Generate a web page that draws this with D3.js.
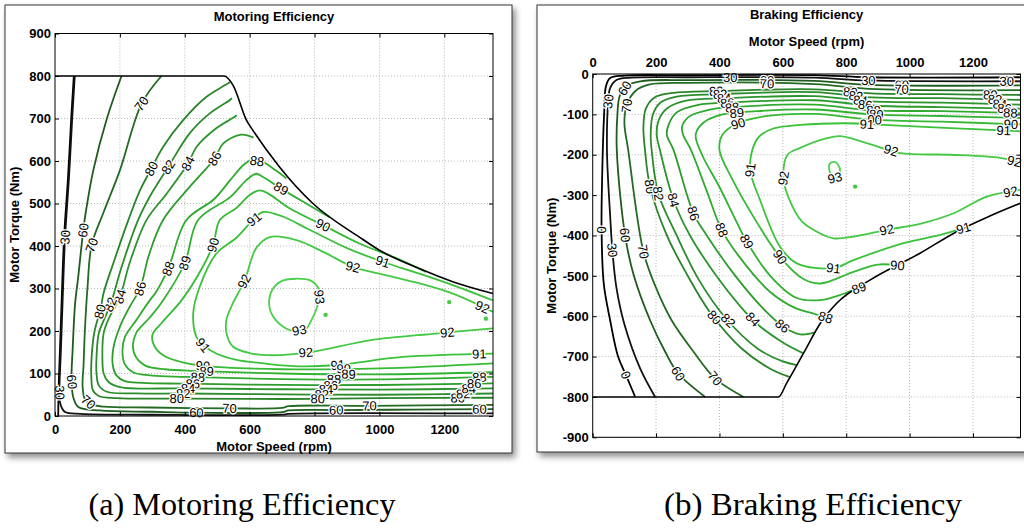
<!DOCTYPE html>
<html>
<head>
<meta charset="utf-8">
<script src="https://cdnjs.cloudflare.com/ajax/libs/d3/7.8.5/d3.min.js"></script>
<style>
  body { margin: 0; background: #fff; }
  svg text { font-family: "Liberation Sans", Arial, sans-serif; }
</style>
</head>
<body>
<svg id="chart" width="1024" height="530"></svg>
<script>
// ---------- axis ticks ----------
const speedTicks = [0, 200, 400, 600, 800, 1000, 1200];
const motTorqueTicks = [0, 100, 200, 300, 400, 500, 600, 700, 800, 900];
const brkTorqueTicks = [0, -100, -200, -300, -400, -500, -600, -700, -800, -900];

// ---------- motoring map: [speed rpm, torque Nm] ----------
const motEnvelope = [[0,800],[521,800],[549,778],[590,696],[610,672],[692,586],[795,500],[938,421],[1000,390],[1123,347],[1226,316],[1350,288]];
const mot0 = [[58,800],[50,700],[40,560],[28,420],[20,260],[15,150],[11,60],[10,0]];
const mot30 = [[61,800],[53,700],[43,560],[31,420],[23,260],[18,150],[14,70],[16,30],[30,10],[80,5],[300,3],[700,3],[720,5],[1350,6]];
const mot60 = [[205,800],[160,700],[118,578],[95,480],[87,437],[72,330],[62,265],[54,150],[51,92],[56,45],[72,21],[138,13],[300,10],[436,8],[700,9],[720,13],[867,14],[1100,15],[1350,16]];
const mot70 = [[328,800],[267,735],[200,578],[150,480],[113,402],[100,300],[92,200],[88,120],[85,70],[92,40],[110,28],[150,22],[292,20],[538,18],[700,19],[720,23],[969,24],[1350,26]];
const mot80 = [[540,786],[523,778],[467,751],[395,696],[333,633],[297,582],[262,531],[226,461],[180,360],[150,290],[140,250],[122,200],[113,140],[112,90],[117,60],[135,47],[190,42],[400,41],[700,40],[1000,42],[1350,43]];
const mot82 = [[545,748],[538,743],[477,712],[415,665],[349,586],[292,516],[256,461],[205,350],[172,265],[150,225],[135,195],[128,140],[128,100],[135,72],[160,57],[250,53],[400,53],[700,51],[1000,50],[1350,53]];
const mot84 = [[560,708],[554,704],[497,677],[436,633],[410,594],[344,523],[282,461],[230,360],[200,280],[165,228],[150,195],[146,140],[150,100],[165,80],[200,68],[400,65],[700,63],[1000,62],[1350,65]];
const mot86 = [[612,655],[574,662],[518,641],[492,606],[415,539],[333,461],[290,380],[262,300],[231,258],[200,210],[180,160],[178,120],[190,95],[215,82],[270,78],[400,76],[700,73],[1000,73],[1350,77]];
const mot88 = [[713,559],[680,578],[640,598],[605,602],[580,590],[540,555],[490,510],[405,461],[349,347],[310,290],[292,272],[250,225],[215,185],[208,150],[215,122],[240,103],[300,95],[400,92],[700,87],[1000,86],[1350,92]];
const mot89 = [[846,468],[774,500],[697,535],[640,563],[620,570],[590,555],[540,515],[441,461],[400,360],[333,272],[290,230],[250,195],[240,165],[250,138],[280,118],[340,110],[430,106],[700,100],[1000,98],[1350,103]];
const mot90 = [[1143,339],[1050,372],[938,406],[826,449],[720,490],[660,522],[631,531],[600,520],[560,490],[508,461],[487,402],[440,330],[390,272],[330,220],[300,190],[310,160],[340,140],[390,127],[456,118],[700,110],[1000,112],[1350,124]];
const mot91 = [[1350,272],[1226,308],[1123,335],[1010,363],[900,395],[780,440],[700,470],[641,480],[610,461],[560,420],[497,382],[446,304],[426,241],[436,186],[456,167],[497,147],[560,132],[651,123],[750,117],[870,120],[1072,139],[1350,147]];
const mot92 = [[1350,245],[1226,288],[1123,312],[1000,335],[918,351],[830,385],[744,414],[662,421],[620,395],[585,320],[545,260],[528,225],[530,190],[549,163],[600,148],[662,143],[794,151],[969,178],[1174,194],[1350,206]];
const mot93 = [[744,323],[790,318],[812,300],[815,280],[805,250],[790,225],[774,205],[740,200],[700,212],[668,240],[660,272],[672,300],[700,318],[744,323]];
const motDots = [[1215,268],[1328,229],[834,238]];
const motLabels = [
  ["30",28,421],["30",10,55],["60",87,437],["60",48,80],["70",113,402],["70",267,735],["70",103,33],
  ["80",297,582],["82",349,586],["84",410,594],["86",492,606],
  ["88",620,586],["89",697,535],["90",826,449],["91",1010,363],["92",918,351],["92",1318,257],
  ["93",846,280],["93",754,198],["91",620,457],["92",585,316],
  ["88",349,347],["89",400,360],["90",487,402],["86",262,300],["84",205,280],["82",172,262],["80",142,245],
  ["91",456,167],["92",774,140],["92",1210,190],["91",1308,145],["88",1308,92],
  ["90",456,116],["89",467,100],["88",440,90],["86",425,76],["84",410,65],["82",395,53],["80",375,41],["60",436,9],["70",538,18],
  ["91",872,120],["90",890,108],["89",905,97],["88",860,86],["86",850,73],["84",835,62],["82",822,51],["80",810,42],["60",867,14],["70",969,24],
  ["80",1241,43],["82",1258,51],["84",1275,63],["86",1292,76],["60",1308,16]
];

// ---------- braking map: [speed rpm, torque Nm] ----------
const brkEnvelope = [[0,-800],[586,-800],[612,-766],[665,-692],[718,-618],[770,-568],[876,-510],[1033,-444],[1150,-390],[1250,-353],[1350,-320]];
const brk0 = [[1350,-8],[870,-8],[700,-3],[300,-3],[100,-4],[55,-10],[42,-30],[36,-100],[30,-250],[28,-386],[35,-520],[55,-610],[80,-700],[105,-746],[134,-800]];
const brk30 = [[1350,-18],[870,-16],[700,-9],[300,-8],[120,-9],[75,-15],[55,-35],[49,-68],[45,-188],[55,-350],[62,-436],[75,-530],[100,-620],[150,-730],[197,-800]];
const brk60 = [[1350,-28],[870,-27],[700,-17],[300,-15],[150,-18],[105,-30],[85,-55],[78,-100],[76,-188],[102,-399],[130,-500],[181,-610],[230,-690],[270,-742],[355,-800]];
const brk70 = [[1350,-40],[870,-37],[700,-25],[300,-22],[180,-26],[135,-42],[108,-75],[100,-120],[112,-188],[160,-440],[200,-530],[249,-610],[320,-690],[386,-754],[476,-800]];
const brk80 = [[1350,-52],[1100,-50],[880,-48],[700,-38],[400,-42],[250,-47],[195,-58],[168,-85],[160,-130],[165,-188],[181,-279],[234,-400],[300,-500],[370,-590],[470,-680],[560,-730],[623,-751]];
const brk82 = [[1350,-64],[1100,-60],[880,-58],[700,-45],[400,-50],[265,-56],[215,-70],[190,-100],[183,-150],[186,-188],[207,-296],[265,-400],[335,-510],[420,-605],[520,-680],[600,-712],[644,-721]];
const brk84 = [[1350,-76],[1100,-71],[880,-68],[700,-55],[420,-60],[295,-66],[235,-85],[208,-115],[202,-150],[212,-188],[255,-312],[307,-400],[390,-500],[465,-575],[520,-620],[600,-665],[665,-692]];
const brk86 = [[1350,-86],[1100,-82],[880,-78],[700,-65],[450,-70],[330,-77],[265,-95],[240,-125],[234,-150],[255,-188],[318,-345],[360,-400],[450,-500],[549,-590],[602,-626],[655,-645],[700,-640]];
const brk88 = [[1350,-97],[1100,-92],[880,-90],[700,-76],[480,-80],[370,-88],[305,-105],[282,-130],[285,-150],[310,-188],[360,-290],[407,-386],[460,-450],[560,-540],[640,-580],[690,-592],[735,-603]];
const brk89 = [[1350,-109],[1100,-104],[880,-100],[700,-88],[520,-92],[410,-100],[350,-120],[325,-150],[345,-200],[400,-280],[450,-360],[486,-415],[560,-500],[644,-555],[720,-560],[790,-545],[840,-530]];
const brk90 = [[1350,-125],[1100,-118],[880,-113],[700,-99],[540,-105],[450,-125],[410,-150],[400,-188],[440,-260],[520,-370],[591,-453],[665,-508],[718,-519],[823,-490],[900,-472],[962,-474]];
const brk91 = [[1350,-142],[1129,-134],[918,-126],[800,-122],[655,-126],[570,-135],[525,-155],[507,-180],[497,-238],[528,-312],[591,-428],[644,-469],[760,-481],[823,-461],[981,-419],[1100,-398],[1170,-382]];
const brk92 = [[1350,-220],[1286,-208],[1129,-200],[971,-196],[865,-171],[781,-154],[739,-159],[655,-183],[615,-200],[602,-258],[620,-310],[660,-365],[718,-395],[760,-407],[823,-403],[928,-386],[1039,-370],[1139,-345],[1244,-304],[1350,-287]];
const brk93 = [[748,-222],[765,-218],[780,-235],[775,-255],[760,-258],[748,-242],[748,-222]];
const brkDots = [[828,-279]];
const brkLabels = [
  ["0",28,-386],["30",65,-436],["60",102,-399],["70",160,-440],["30",49,-68],["60",100,-35],["70",118,-80],
  ["30",434,-8],["60",550,-16],["70",550,-24],["30",870,-16],["60",975,-27],["70",975,-37],["30",1307,-18],
  ["80",390,-45],["82",402,-52],["84",415,-62],["86",425,-70],["88",440,-82],["89",455,-98],["90",465,-140],
  ["80",812,-51],["82",830,-58],["84",845,-66],["86",860,-77],["88",886,-90],["89",895,-100],["90",890,-112],["91",865,-126],
  ["80",1255,-51],["82",1270,-62],["84",1285,-72],["86",1300,-84],["88",1318,-97],["90",1320,-125],["91",1297,-142],
  ["80",181,-279],["82",207,-296],["84",255,-312],["86",318,-345],["88",407,-386],["89",486,-415],["90",591,-453],
  ["91",497,-238],["92",602,-258],["93",770,-275],
  ["0",105,-746],["60",270,-742],["70",386,-754],["80",381,-605],["82",428,-610],["84",502,-610],["86",597,-626],
  ["88",749,-590],["89",855,-525],["90",962,-470],["91",1170,-378],["91",760,-481],["92",928,-386],
  ["92",939,-196],["92",1330,-218],["92",1318,-290]
];

const motLines = [[0,mot0],[30,mot30],[60,mot60],[70,mot70],[80,mot80],[82,mot82],[84,mot84],[86,mot86],[88,mot88],[89,mot89],[90,mot90],[91,mot91],[92,mot92],[93,mot93]];
const brkLines = [[0,brk0],[30,brk30],[60,brk60],[70,brk70],[80,brk80],[82,brk82],[84,brk84],[86,brk86],[88,brk88],[89,brk89],[90,brk90],[91,brk91],[92,brk92],[93,brk93]];

// contour colour: black for the low levels, brighter green toward the peak
const levelColor = d3.scaleLinear()
  .domain([0, 30, 60, 70, 80, 86, 89, 91, 93])
  .range(["#000000", "#111111", "#1f5c1f", "#236a23", "#2a842a", "#2d9c2d", "#31b231", "#3ac23a", "#4fd04f"]);

const svg = d3.select("#chart");
const defs = svg.append("defs");
const shadow = defs.append("filter").attr("id", "shadow")
  .attr("x", "-5%").attr("y", "-5%").attr("width", "115%").attr("height", "115%");
shadow.append("feDropShadow").attr("dx", 3).attr("dy", 4).attr("stdDeviation", 3)
  .attr("flood-color", "#000").attr("flood-opacity", 0.45);

const plain = d => String(d);

function drawPanel(cfg) {
  const x = d3.scaleLinear().domain([0, 1350]).range([cfg.left, cfg.right]);
  const y = d3.scaleLinear().domain(cfg.yDomain).range([cfg.bottom, cfg.top]);
  const g = svg.append("g");

  // frame with drop shadow
  g.append("rect")
    .attr("x", cfg.frame[0]).attr("y", cfg.frame[1])
    .attr("width", cfg.frame[2]).attr("height", cfg.frame[3])
    .attr("fill", "#fff").attr("stroke", "#333").attr("stroke-width", 1)
    .attr("filter", "url(#shadow)");

  // dotted grid
  g.append("g").selectAll("line").data(speedTicks.slice(1)).join("line")
    .attr("x1", d => x(d)).attr("x2", d => x(d))
    .attr("y1", cfg.top).attr("y2", cfg.bottom)
    .attr("stroke", "#b8b8b8").attr("stroke-dasharray", "1,2");
  g.append("g").selectAll("line").data(cfg.yTicks).join("line")
    .attr("x1", cfg.left).attr("x2", cfg.right)
    .attr("y1", d => y(d)).attr("y2", d => y(d))
    .attr("stroke", "#b8b8b8").attr("stroke-dasharray", "1,2");

  const clipId = "clip" + cfg.id;
  defs.append("clipPath").attr("id", clipId).append("rect")
    .attr("x", cfg.left).attr("y", cfg.top)
    .attr("width", cfg.right - cfg.left).attr("height", cfg.bottom - cfg.top);

  const plot = g.append("g").attr("clip-path", `url(#${clipId})`);
  const open = d3.line().x(d => x(d[0])).y(d => y(d[1])).curve(d3.curveCatmullRom.alpha(0.5));
  const closed = d3.line().x(d => x(d[0])).y(d => y(d[1])).curve(d3.curveCatmullRomClosed.alpha(0.5));

  cfg.lines.forEach(([level, pts]) => {
    const first = pts[0], last = pts[pts.length - 1];
    const isLoop = first[0] === last[0] && first[1] === last[1];
    plot.append("path")
      .attr("d", isLoop ? closed(pts.slice(0, -1)) : open(pts))
      .attr("fill", "none")
      .attr("stroke", levelColor(level))
      .attr("stroke-width", 1.8)
      .attr("stroke-linejoin", "round");
  });

  plot.selectAll(".dot").data(cfg.dots).join("circle")
    .attr("cx", d => x(d[0])).attr("cy", d => y(d[1])).attr("r", 2.2)
    .attr("fill", levelColor(92));

  // torque envelope
  plot.append("path")
    .attr("d", d3.line().x(d => x(d[0])).y(d => y(d[1])).curve(d3.curveMonotoneX)(cfg.envelope))
    .attr("fill", "none").attr("stroke", "#000").attr("stroke-width", 1.6);

  // inline contour labels: snap to the nearest segment of their level and follow its slope
  cfg.labels.forEach(([txt, sv, tv]) => {
    const lvl = +txt;
    const target = [x(sv), y(tv)];
    let best = { d: Infinity, p: target, a: 0 };
    cfg.lines.filter(l => l[0] === lvl).forEach(([, pts]) => {
      const sp = pts.map(p => [x(p[0]), y(p[1])]);
      for (let i = 0; i < sp.length - 1; i++) {
        const [ax, ay] = sp[i], [bx, by] = sp[i + 1];
        const dx = bx - ax, dy = by - ay;
        const len2 = dx * dx + dy * dy || 1;
        const t = Math.max(0, Math.min(1, ((target[0] - ax) * dx + (target[1] - ay) * dy) / len2));
        const px = ax + t * dx, py = ay + t * dy;
        const dist = Math.hypot(px - target[0], py - target[1]);
        if (dist < best.d) best = { d: dist, p: [px, py], a: Math.atan2(dy, dx) * 180 / Math.PI };
      }
    });
    let ang = best.a;
    if (ang > 90) ang -= 180;
    if (ang < -90) ang += 180;
    g.append("text")
      .attr("transform", `translate(${best.p[0]},${best.p[1]}) rotate(${ang})`)
      .attr("text-anchor", "middle").attr("dy", "0.35em")
      .attr("font-size", 13).attr("fill", "#000")
      .attr("stroke", "#fff").attr("stroke-width", 2.5).attr("paint-order", "stroke")
      .text(txt);
  });

  // axes: labelled sides + inward ticks on all four sides
  const tickFont = sel => sel.selectAll("text").attr("font-size", 13).attr("font-weight", "bold").attr("fill", "#000");
  const strip = sel => { sel.select(".domain").remove(); sel.selectAll("line").attr("stroke", "#000"); };

  if (cfg.xTop) {
    g.append("g").attr("transform", `translate(0,${cfg.top})`)
      .call(d3.axisTop(x).tickValues(speedTicks).tickFormat(plain).tickSize(-4).tickPadding(7)).call(strip).call(tickFont);
    g.append("g").attr("transform", `translate(0,${cfg.bottom})`)
      .call(d3.axisBottom(x).tickValues(speedTicks).tickSize(-4).tickFormat("")).call(strip);
  } else {
    g.append("g").attr("transform", `translate(0,${cfg.bottom})`)
      .call(d3.axisBottom(x).tickValues(speedTicks).tickFormat(plain).tickSize(-4).tickPadding(9)).call(strip).call(tickFont);
    g.append("g").attr("transform", `translate(0,${cfg.top})`)
      .call(d3.axisTop(x).tickValues(speedTicks).tickSize(-4).tickFormat("")).call(strip);
  }
  g.append("g").attr("transform", `translate(${cfg.left},0)`)
    .call(d3.axisLeft(y).tickValues(cfg.yTicks).tickFormat(plain).tickSize(-4).tickPadding(4)).call(strip).call(tickFont);
  g.append("g").attr("transform", `translate(${cfg.right},0)`)
    .call(d3.axisRight(y).tickValues(cfg.yTicks).tickSize(-4).tickFormat("")).call(strip);

  g.append("rect")
    .attr("x", cfg.left).attr("y", cfg.top)
    .attr("width", cfg.right - cfg.left).attr("height", cfg.bottom - cfg.top)
    .attr("fill", "none").attr("stroke", "#000").attr("stroke-width", 1);

  const cx = (cfg.left + cfg.right) / 2;
  g.append("text").attr("x", cx).attr("y", cfg.titleY)
    .attr("text-anchor", "middle").attr("font-size", 13).attr("font-weight", "bold").text(cfg.title);
  g.append("text").attr("x", cx).attr("y", cfg.xLabelY)
    .attr("text-anchor", "middle").attr("font-size", 13).attr("font-weight", "bold").text("Motor Speed (rpm)");
  g.append("text")
    .attr("transform", `translate(${cfg.yLabelX},${(cfg.top + cfg.bottom) / 2}) rotate(-90)`)
    .attr("text-anchor", "middle").attr("font-size", 13).attr("font-weight", "bold").text("Motor Torque (Nm)");

  // caption under the frame
  svg.append("text").attr("x", cfg.captionX).attr("y", 515)
    .attr("text-anchor", "middle").attr("font-size", 32)
    .attr("textLength", cfg.captionW).attr("lengthAdjust", "spacingAndGlyphs")
    .style("font-family", "'Liberation Serif', 'Times New Roman', serif")
    .text(cfg.caption);
}

drawPanel({
  id: "mot", frame: [5, 5, 507, 448],
  left: 55, right: 493, top: 33.5, bottom: 416,
  yDomain: [0, 900], yTicks: motTorqueTicks,
  lines: motLines, labels: motLabels, dots: motDots, envelope: motEnvelope,
  xTop: false, title: "Motoring Efficiency", titleY: 21, xLabelY: 451, yLabelX: 19,
  caption: "(a) Motoring Efficiency", captionX: 242, captionW: 307
});

drawPanel({
  id: "brk", frame: [537, 5, 500, 447],
  left: 592.7, right: 1020.5, top: 74, bottom: 437.3,
  yDomain: [-900, 0], yTicks: brkTorqueTicks,
  lines: brkLines, labels: brkLabels, dots: brkDots, envelope: brkEnvelope,
  xTop: true, title: "Braking Efficiency", titleY: 19, xLabelY: 46, yLabelX: 556,
  caption: "(b) Braking Efficiency", captionX: 813, captionW: 298
});
</script>
</body>
</html>
